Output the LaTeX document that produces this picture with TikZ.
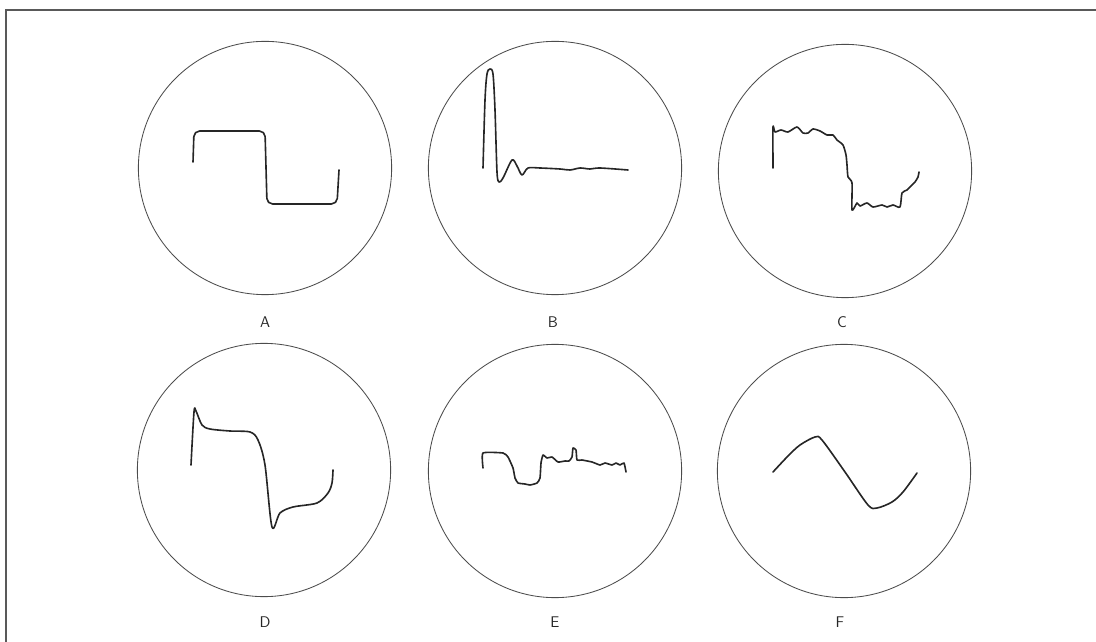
\documentclass[tikz,border=0pt]{standalone}
\usepackage{tikz}
\usetikzlibrary{positioning}

\begin{document}
\begin{tikzpicture}[
    x=0.025cm, y=-0.025cm,
    screen/.style={draw=black!70, line width=0.6pt, circle, minimum size=6.33cm, inner sep=0pt},
    tag/.style={font=\sffamily\fontsize{11}{13}\selectfont, text=black!85},
    trace/.style={draw=black!85, line width=1.15pt, line join=round, line cap=round},
]
\useasboundingbox (0,0) rectangle (1096,642);

% Frame
\draw[black!65, line width=0.9pt] (6,642) -- (6,10) -- (1096,10);

% Top row
\node[screen] (scA) at (265,168) {};
\node[screen] (scB) at (555,168) {};
\node[screen] (scC) at (845,171) {};
\node[tag] (lbA) at (265,322) {A};
\node[tag] (lbB) at (553,322) {B};
\node[tag] (lbC) at (842,322) {C};

% Bottom row
\node[screen] (scD) at (264,470) {};
\node[screen] (scE) at (555,471) {};
\node[screen] (scF) at (844,471) {};
\node[tag] (lbD) at (265,622) {D};
\node[tag] (lbE) at (555,622) {E};
\node[tag] (lbF) at (840,622) {F};

% A: square wave
\draw[trace, rounded corners=4] (193,162) -- (194,131) -- (265,131) -- (267,204)
    -- (337,204) -- (339,170);

% B: spike and ringing
\draw[trace] plot[smooth, tension=0.5] coordinates {(483,168) (485,100) (487,74)
    (490,69) (493,74) (495,110) (497,172) (499,182) (503,178) (512,160)
    (517,166) (522,175) (528,168) (540,168) (560,169) (570,170) (580,168)
    (590,169) (600,168) (628,170)};

% C: noisy square wave
\draw[trace] plot[smooth, tension=0.4] coordinates {(773,168) (773,127) (775,132)
    (781,130) (788,132) (797,127) (803,133) (808,133) (813,129) (820,131)
    (827,135) (833,135) (837,140) (843,145) (846,155) (847,165) (848,177)
    (852,183) (852,210) (857,203) (860,206) (867,203) (873,207) (882,205)
    (887,207) (893,205) (900,207) (902,193) (907,190) (911,186) (915,182)
    (918,177) (919,172)};

% D: differentiated square wave
\draw[trace] plot[smooth, tension=0.5] coordinates {(191,465) (194,412) (196,411)
    (202,425) (210,429) (230,431) (250,432) (258,440) (265,465) (272,527)
    (280,513) (293,507) (317,503) (328,493) (332,483) (333,470)};

% E: noisy trace
\draw[trace] plot[smooth, tension=0.3] coordinates {(483,468) (483,453) (503,453)
    (508,457) (513,468) (515,478) (518,483) (525,484) (530,485) (537,483)
    (540,478) (541,463) (543,455) (547,458) (552,457) (558,462) (565,461)
    (569,461) (572,457) (573,448) (576,450) (577,460) (582,460) (592,462)
    (600,465) (605,463) (612,465) (616,463) (620,465) (624,463) (626,472)};

% F: sine-like
\draw[trace] plot[smooth, tension=0.5] coordinates {(773,472) (788,456) (800,445)
    (815,437) (822,440) (845,472) (868,505) (877,508) (892,502) (903,492)
    (917,473)};

\end{tikzpicture}
\end{document}
